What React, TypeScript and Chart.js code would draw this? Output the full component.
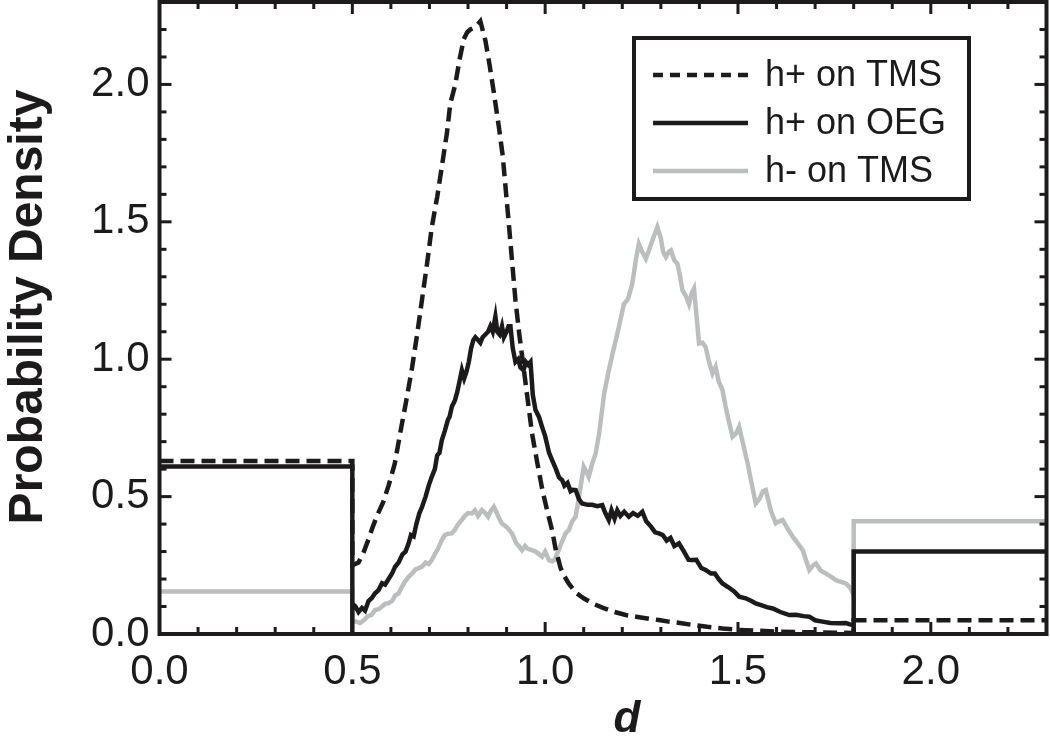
import React, { useEffect, useRef } from "react";
import { Chart, registerables } from "chart.js";

Chart.register(...registerables);

const INK = "#1c1a1b";
const GREY = "#bcbdbf";
const FONT = "'Liberation Sans', Arial, Helvetica, sans-serif";

// axis ticks
const X_TICKS = [0, 0.5, 1.0, 1.5, 2.0];
const Y_TICKS = [0, 0.5, 1.0, 1.5, 2.0];
const X_MAX = 2.3;
const Y_MAX = 2.3;

const X_TITLE = "d";
const Y_TITLE = "Probability Density";
const LABELS = ["h+ on TMS", "h+ on OEG", "h- on TMS"];

// h+ on TMS (dashed)
const tmsPlusX = [0, 0.5, 0.5, 0.516, 0.53, 0.542, 0.553, 0.564, 0.58, 0.594, 0.61, 0.624, 0.64, 0.655, 0.668, 0.681, 0.694, 0.706, 0.72, 0.732, 0.745, 0.754, 0.767, 0.778, 0.789, 0.798, 0.806, 0.82, 0.832, 0.845, 0.856, 0.867, 0.88, 0.89, 0.897, 0.906, 0.914, 0.923, 0.933, 0.944, 0.955, 0.966, 0.98, 0.992, 1.005, 1.018, 1.027, 1.04, 1.05, 1.061, 1.08, 1.1, 1.122, 1.15, 1.18, 1.209, 1.24, 1.27, 1.295, 1.32, 1.35, 1.382, 1.42, 1.46, 1.503, 1.55, 1.6, 1.65, 1.7, 1.75, 1.8, 1.8, 2.3];
const tmsPlusY = [0.63, 0.63, 0.25, 0.26, 0.3, 0.345, 0.39, 0.43, 0.48, 0.54, 0.62, 0.73, 0.85, 0.97, 1.09, 1.22, 1.35, 1.48, 1.59, 1.7, 1.82, 1.93, 2.0, 2.09, 2.165, 2.19, 2.2, 2.21, 2.23, 2.16, 2.07, 1.97, 1.845, 1.74, 1.63, 1.49, 1.36, 1.215, 1.09, 0.97, 0.85, 0.73, 0.62, 0.53, 0.45, 0.378, 0.31, 0.24, 0.21, 0.184, 0.15, 0.13, 0.112, 0.095, 0.08, 0.069, 0.062, 0.055, 0.051, 0.045, 0.04, 0.033, 0.026, 0.02, 0.015, 0.012, 0.009, 0.007, 0.006, 0.005, 0.004, 0.05, 0.05];

// h+ on OEG (solid black)
const oegPlusX = [0, 0.5, 0.5, 0.5, 0.508, 0.516, 0.525, 0.533, 0.542, 0.55, 0.559, 0.568, 0.577, 0.585, 0.594, 0.603, 0.611, 0.62, 0.63, 0.638, 0.646, 0.652, 0.659, 0.666, 0.674, 0.681, 0.69, 0.698, 0.706, 0.714, 0.72, 0.726, 0.732, 0.74, 0.748, 0.752, 0.758, 0.766, 0.772, 0.778, 0.784, 0.79, 0.796, 0.802, 0.808, 0.814, 0.819, 0.826, 0.832, 0.838, 0.845, 0.852, 0.858, 0.864, 0.871, 0.876, 0.882, 0.888, 0.893, 0.9, 0.905, 0.91, 0.916, 0.923, 0.93, 0.936, 0.944, 0.95, 0.956, 0.962, 0.968, 0.975, 0.984, 0.992, 1.0, 1.01, 1.018, 1.028, 1.036, 1.044, 1.05, 1.058, 1.066, 1.072, 1.079, 1.088, 1.096, 1.11, 1.122, 1.135, 1.148, 1.156, 1.165, 1.172, 1.18, 1.187, 1.195, 1.205, 1.217, 1.228, 1.24, 1.252, 1.262, 1.275, 1.285, 1.295, 1.305, 1.315, 1.325, 1.335, 1.347, 1.36, 1.372, 1.382, 1.392, 1.405, 1.416, 1.43, 1.44, 1.45, 1.46, 1.475, 1.49, 1.503, 1.52, 1.535, 1.546, 1.56, 1.575, 1.59, 1.61, 1.633, 1.65, 1.67, 1.685, 1.7, 1.719, 1.74, 1.763, 1.78, 1.79, 1.8, 1.8, 1.8, 2.3];
const oegPlusY = [0.61, 0.61, 0, 0.11, 0.1, 0.08, 0.095, 0.085, 0.12, 0.13, 0.148, 0.16, 0.185, 0.18, 0.2, 0.22, 0.245, 0.26, 0.29, 0.3, 0.33, 0.36, 0.355, 0.4, 0.44, 0.463, 0.5, 0.54, 0.572, 0.6, 0.65, 0.66, 0.705, 0.74, 0.78, 0.79, 0.827, 0.85, 0.88, 0.92, 0.96, 0.93, 0.955, 0.99, 1.04, 1.07, 1.08, 1.07, 1.06, 1.08, 1.09, 1.1, 1.12, 1.1, 1.155, 1.1, 1.09, 1.12, 1.08, 1.1, 1.12, 1.12, 1.04, 0.99, 1.0, 0.97, 0.96, 0.99, 0.98, 0.99, 0.87, 0.815, 0.79, 0.754, 0.72, 0.66, 0.633, 0.6, 0.57, 0.56, 0.54, 0.55, 0.52, 0.525, 0.524, 0.49, 0.475, 0.47, 0.47, 0.465, 0.469, 0.44, 0.415, 0.45, 0.42, 0.45, 0.43, 0.445, 0.427, 0.44, 0.43, 0.445, 0.41, 0.39, 0.37, 0.366, 0.36, 0.34, 0.35, 0.32, 0.33, 0.3, 0.27, 0.269, 0.27, 0.24, 0.233, 0.22, 0.22, 0.2, 0.184, 0.17, 0.155, 0.136, 0.13, 0.12, 0.111, 0.105, 0.098, 0.093, 0.08, 0.069, 0.07, 0.065, 0.063, 0.05, 0.045, 0.04, 0.039, 0.04, 0.035, 0.033, 0, 0.3, 0.3];

// h- on TMS (grey)
const tmsMinusX = [0, 0.5, 0.5, 0.51, 0.52, 0.53, 0.54, 0.55, 0.559, 0.568, 0.577, 0.585, 0.594, 0.603, 0.611, 0.62, 0.628, 0.636, 0.646, 0.655, 0.664, 0.672, 0.681, 0.69, 0.698, 0.706, 0.714, 0.722, 0.732, 0.74, 0.748, 0.758, 0.766, 0.775, 0.784, 0.792, 0.8, 0.81, 0.818, 0.826, 0.836, 0.845, 0.852, 0.86, 0.867, 0.875, 0.881, 0.888, 0.9, 0.914, 0.925, 0.932, 0.94, 0.948, 0.955, 0.966, 0.975, 0.985, 0.992, 1.0, 1.01, 1.018, 1.025, 1.036, 1.045, 1.053, 1.062, 1.07, 1.079, 1.088, 1.1, 1.107, 1.113, 1.122, 1.131, 1.14, 1.153, 1.165, 1.179, 1.19, 1.204, 1.215, 1.226, 1.235, 1.243, 1.252, 1.261, 1.27, 1.28, 1.291, 1.3, 1.306, 1.313, 1.32, 1.326, 1.335, 1.343, 1.35, 1.356, 1.365, 1.373, 1.38, 1.386, 1.393, 1.399, 1.408, 1.416, 1.425, 1.434, 1.442, 1.45, 1.46, 1.468, 1.477, 1.486, 1.495, 1.503, 1.512, 1.525, 1.535, 1.546, 1.555, 1.565, 1.572, 1.585, 1.598, 1.607, 1.616, 1.63, 1.642, 1.655, 1.668, 1.676, 1.685, 1.695, 1.702, 1.715, 1.728, 1.74, 1.754, 1.767, 1.78, 1.79, 1.8, 1.8, 2.3];
const tmsMinusY = [0.155, 0.155, 0.05, 0.045, 0.04, 0.05, 0.065, 0.07, 0.087, 0.09, 0.1, 0.11, 0.112, 0.12, 0.14, 0.148, 0.17, 0.19, 0.208, 0.22, 0.235, 0.24, 0.245, 0.26, 0.255, 0.269, 0.29, 0.31, 0.342, 0.36, 0.365, 0.366, 0.38, 0.4, 0.415, 0.43, 0.44, 0.439, 0.45, 0.43, 0.451, 0.44, 0.427, 0.45, 0.463, 0.44, 0.42, 0.402, 0.39, 0.366, 0.33, 0.32, 0.305, 0.32, 0.31, 0.305, 0.3, 0.29, 0.281, 0.3, 0.269, 0.265, 0.27, 0.31, 0.34, 0.366, 0.38, 0.41, 0.427, 0.5, 0.609, 0.59, 0.572, 0.62, 0.657, 0.73, 0.875, 0.96, 1.045, 1.11, 1.2, 1.22, 1.275, 1.36, 1.42, 1.39, 1.366, 1.4, 1.44, 1.481, 1.44, 1.39, 1.372, 1.39, 1.396, 1.36, 1.348, 1.3, 1.251, 1.23, 1.2, 1.24, 1.257, 1.15, 1.057, 1.06, 1.045, 0.99, 0.948, 0.972, 0.92, 0.887, 0.827, 0.77, 0.718, 0.73, 0.754, 0.7, 0.621, 0.55, 0.475, 0.49, 0.52, 0.524, 0.45, 0.403, 0.41, 0.415, 0.38, 0.354, 0.33, 0.305, 0.27, 0.233, 0.25, 0.257, 0.23, 0.22, 0.21, 0.196, 0.19, 0.184, 0.17, 0.142, 0.41, 0.41];

const pts = (xs: number[], ys: number[]) => xs.map((x, i) => ({ x, y: ys[i] }));

const framePlugin = {
  id: "frameTicks",
  afterDatasetsDraw(chart: any) {
    const { ctx, chartArea, scales } = chart;
    const { left, right, top, bottom } = chartArea;
    const xs = scales.x;
    const ys = scales.y;
    ctx.save();
    ctx.strokeStyle = INK;
    ctx.lineWidth = 3;
    ctx.lineCap = "butt";
    const seg = (x1: number, y1: number, x2: number, y2: number) => {
      ctx.beginPath();
      ctx.moveTo(x1, y1);
      ctx.lineTo(x2, y2);
      ctx.stroke();
    };
    for (let i = 1; i <= Math.round(X_MAX * 10); i++) {
      const v = i / 10;
      const major = i % 5 === 0;
      const px = xs.getPixelForValue(v);
      const len = major ? 12 : 7;
      seg(px, bottom, px, bottom - len);
      seg(px, top, px, top + len);
    }
    for (let i = 1; i <= Math.round(Y_MAX * 10); i++) {
      const v = i / 10;
      const major = i % 5 === 0;
      const py = ys.getPixelForValue(v);
      const len = major ? 12 : 7;
      seg(left, py, left + len, py);
      seg(right, py, right - len, py);
    }
    ctx.lineWidth = 4;
    ctx.strokeRect(left, top, right - left, bottom - top);

    // axis titles
    ctx.fillStyle = INK;
    ctx.textAlign = "center";
    ctx.textBaseline = "middle";
    ctx.font = `italic bold 44px ${FONT}`;
    ctx.fillText(X_TITLE, 627, 720);
    ctx.translate(29, 307);
    ctx.rotate(-Math.PI / 2);
    ctx.font = `bold 48px ${FONT}`;
    ctx.fillText(Y_TITLE, 0, 0);
    ctx.restore();
  },
};

const legendPlugin = {
  id: "boxLegend",
  afterDraw(chart: any) {
    const { ctx } = chart;
    const bx = 634, by = 38, bw = 335, bh = 161;
    ctx.save();
    ctx.fillStyle = "#ffffff";
    ctx.fillRect(bx, by, bw, bh);
    ctx.lineWidth = 4;
    ctx.strokeStyle = INK;
    ctx.strokeRect(bx, by, bw, bh);
    const styles = [
      { color: INK, dash: [10, 7] },
      { color: INK, dash: [] },
      { color: GREY, dash: [] },
    ];
    LABELS.forEach((label, i) => {
      const cy = 75 + i * 48;
      ctx.beginPath();
      ctx.setLineDash(styles[i].dash);
      ctx.strokeStyle = styles[i].color;
      ctx.lineWidth = 4.5;
      ctx.moveTo(653, cy);
      ctx.lineTo(748, cy);
      ctx.stroke();
      ctx.setLineDash([]);
      ctx.fillStyle = INK;
      ctx.font = `36px ${FONT}`;
      ctx.textBaseline = "middle";
      ctx.textAlign = "left";
      ctx.fillText(label, 765, cy + 1);
    });
    ctx.restore();
  },
};

export default function App() {
  const ref = useRef<HTMLCanvasElement | null>(null);
  useEffect(() => {
    document.body.style.margin = "0";
    const canvas = ref.current;
    if (!canvas) return;
    const chart = new Chart(canvas, {
      type: "line",
      data: {
        datasets: [
          {
            label: LABELS[0],
            data: pts(tmsPlusX, tmsPlusY),
            borderColor: INK,
            borderWidth: 4.5,
            borderDash: [14, 7],
            pointRadius: 0,
            tension: 0,
            fill: false,
            order: 0,
          },
          {
            label: LABELS[1],
            data: pts(oegPlusX, oegPlusY),
            borderColor: INK,
            borderWidth: 4.5,
            pointRadius: 0,
            tension: 0,
            fill: false,
            order: 1,
          },
          {
            label: LABELS[2],
            data: pts(tmsMinusX, tmsMinusY),
            borderColor: GREY,
            borderWidth: 4.5,
            pointRadius: 0,
            tension: 0,
            fill: false,
            order: 2,
          },
        ],
      },
      options: {
        responsive: false,
        animation: false,
        devicePixelRatio: 1,
        layout: { padding: { left: 0, right: 3.5, top: 2, bottom: 0 } },
        plugins: { legend: { display: false }, tooltip: { enabled: false } },
        scales: {
          x: {
            type: "linear",
            min: 0,
            max: X_MAX,
            afterBuildTicks: (s: any) => {
              s.ticks = X_TICKS.map((v) => ({ value: v }));
            },
            afterFit: (s: any) => {
              s.height = 112;
              s.paddingLeft = 0;
              s.paddingRight = 0;
              s.paddingTop = 0;
              s.paddingBottom = 0;
            },
            grid: { display: false, drawTicks: false },
            border: { display: false },
            ticks: {
              autoSkip: false,
              maxRotation: 0,
              padding: 13,
              color: INK,
              font: { family: FONT, size: 42 },
              callback: (v: any) => Number(v).toFixed(1),
            },
            title: { display: false },
          },
          y: {
            type: "linear",
            min: 0,
            max: Y_MAX,
            afterBuildTicks: (s: any) => {
              s.ticks = Y_TICKS.map((v) => ({ value: v }));
            },
            afterFit: (s: any) => {
              s.width = 159.5;
              s.paddingLeft = 0;
              s.paddingRight = 0;
              s.paddingTop = 0;
              s.paddingBottom = 0;
            },
            grid: { display: false, drawTicks: false },
            border: { display: false },
            ticks: {
              autoSkip: false,
              padding: 10,
              color: INK,
              font: { family: FONT, size: 42 },
              callback: (v: any) => Number(v).toFixed(1),
            },
            title: { display: false },
          },
        },
      },
      plugins: [framePlugin, legendPlugin],
    });
    return () => chart.destroy();
  }, []);
  return (
    <div style={{ position: "absolute", left: 0, top: 0, width: 1050, height: 746 }}>
      <canvas ref={ref} width={1050} height={746} style={{ display: "block" }} />
    </div>
  );
}
